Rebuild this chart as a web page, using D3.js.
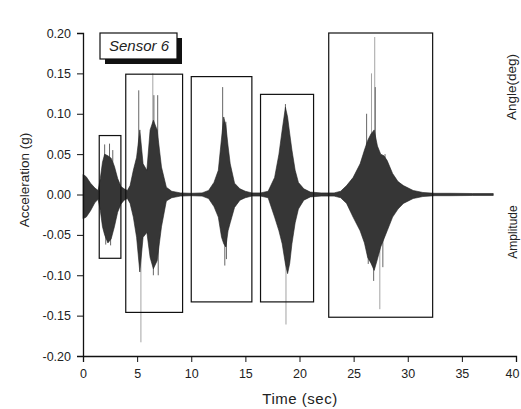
<!DOCTYPE html>
<html>
<head>
<meta charset="utf-8">
<script src="https://cdn.jsdelivr.net/npm/d3@7"></script>
<style>
  body { margin: 0; background: #fff; }
  text { font-family: "Liberation Sans", Arial, sans-serif; }
</style>
</head>
<body>
<div id="chart"></div>
<script>
var envTime  = [0, 0.3, 0.7, 1.1, 1.4, 1.6, 1.8, 2.0, 2.3, 2.6, 2.9, 3.2, 3.5, 3.8, 4.1, 4.35, 4.65, 4.95, 5.25, 5.55, 5.9, 6.2, 6.5, 6.85, 7.25, 7.7, 8.2, 9.0, 10.0, 11.0, 11.6, 12.1, 12.5, 12.8, 13.0, 13.2, 13.4, 13.6, 14.0, 14.5, 15.0, 15.6, 16.4, 17.1, 17.7, 18.1, 18.4, 18.7, 18.9, 19.1, 19.3, 19.6, 19.9, 20.4, 21.0, 22.0, 23.2, 23.8, 24.35, 24.95, 25.6, 26.0, 26.3, 26.6, 26.9, 27.2, 27.5, 27.8, 28.1, 28.6, 29.1, 29.6, 30.5, 31.4, 32.5, 34.0, 36.0, 37.9];
var envUpper = [0.025, 0.022, 0.014, 0.008, 0.005, 0.02, 0.04, 0.05, 0.048, 0.045, 0.035, 0.02, 0.01, 0.007, 0.005, 0.011, 0.03, 0.046, 0.08, 0.038, 0.03, 0.08, 0.092, 0.08, 0.034, 0.009, 0.004, 0.002, 0.0015, 0.002, 0.005, 0.015, 0.03, 0.07, 0.096, 0.085, 0.06, 0.038, 0.014, 0.007, 0.004, 0.002, 0.002, 0.004, 0.021, 0.05, 0.08, 0.108, 0.096, 0.075, 0.055, 0.03, 0.015, 0.007, 0.003, 0.002, 0.002, 0.004, 0.011, 0.021, 0.038, 0.055, 0.067, 0.075, 0.08, 0.06, 0.05, 0.048, 0.042, 0.026, 0.016, 0.011, 0.005, 0.0025, 0.0015, 0.0015, 0.0012, 0.0012];
var envLower = [-0.03, -0.028, -0.02, -0.01, -0.006, -0.02, -0.04, -0.05, -0.06, -0.055, -0.04, -0.022, -0.012, -0.007, -0.005, -0.011, -0.028, -0.053, -0.096, -0.053, -0.047, -0.078, -0.092, -0.082, -0.04, -0.008, -0.004, -0.002, -0.0015, -0.002, -0.005, -0.015, -0.028, -0.053, -0.061, -0.065, -0.045, -0.035, -0.016, -0.007, -0.004, -0.002, -0.002, -0.004, -0.028, -0.045, -0.061, -0.086, -0.098, -0.085, -0.061, -0.035, -0.018, -0.007, -0.003, -0.002, -0.002, -0.004, -0.011, -0.028, -0.045, -0.06, -0.078, -0.085, -0.094, -0.08, -0.065, -0.055, -0.045, -0.028, -0.018, -0.011, -0.005, -0.0025, -0.0015, -0.0015, -0.0012, -0.0012];

// single peaks sticking out of the envelope
var spikeTime = [2.0, 2.45, 2.75, 2.1, 2.55, 5.15, 6.45, 6.55, 6.9, 5.35, 6.5, 6.95, 12.9, 13.2, 13.1, 13.25, 18.7, 18.75, 26.2, 26.65, 26.95, 27.0, 27.9, 26.35, 26.85, 27.42, 27.7];
var spikePeak = [0.062, 0.063, 0.055, -0.062, -0.063, 0.129, 0.15, 0.123, 0.123, -0.183, -0.1, -0.1, 0.133, 0.09, -0.088, -0.08, 0.112, -0.161, 0.1, 0.15, 0.195, 0.133, 0.05, -0.086, -0.107, -0.142, -0.09];

// boxes around the five events
var boxStart = [1.5, 3.95, 10.0, 16.4, 22.7];
var boxEnd   = [3.5, 9.2, 15.6, 21.3, 32.3];
var boxTop   = [0.073, 0.149, 0.146, 0.124, 0.2];
var boxBot   = [-0.079, -0.146, -0.133, -0.133, -0.152];

var xTicks = [0, 5, 10, 15, 20, 25, 30, 35, 40];
var yTicks = [-0.2, -0.15, -0.1, -0.05, 0, 0.05, 0.1, 0.15, 0.2];

var W = 521, H = 409;
var svg = d3.select("#chart").append("svg")
    .attr("width", W)
    .attr("height", H);

var x = d3.scaleLinear().domain([0, 40]).range([83, 516]);
var y = d3.scaleLinear().domain([-0.2, 0.2]).range([356, 33]);

var env = envTime.map(function(t, i){ return {t: t, hi: envUpper[i], lo: envLower[i]}; });

// spikes first, the dense part covers their roots
svg.selectAll("line.spike")
    .data(spikeTime)
    .enter()
    .append("line")
    .attr("class", "spike")
    .attr("x1", function(d){ return x(d); })
    .attr("x2", function(d){ return x(d); })
    .attr("y1", y(0))
    .attr("y2", function(d, i){ return y(spikePeak[i]); })
    .attr("stroke", function(d, i){ return Math.abs(spikePeak[i]) > 0.14 ? "#999" : "#555"; })
    .attr("stroke-width", 0.9);

// dense waveform
svg.append("path")
    .datum(env)
    .attr("fill", "#363636")
    .attr("stroke", "#222")
    .attr("stroke-width", 0.6)
    .attr("d", d3.area()
        .x(function(d){ return x(d.t); })
        .y0(function(d){ return y(d.lo); })
        .y1(function(d){ return y(d.hi); }));

// event boxes
svg.selectAll("rect.box")
    .data(boxStart)
    .enter()
    .append("rect")
    .attr("class", "box")
    .attr("x", function(d){ return x(d); })
    .attr("y", function(d, i){ return y(boxTop[i]); })
    .attr("width", function(d, i){ return x(boxEnd[i]) - x(d); })
    .attr("height", function(d, i){ return y(boxBot[i]) - y(boxTop[i]); })
    .attr("fill", "none")
    .attr("stroke", "#111")
    .attr("stroke-width", 1.2);

// axes
var xMinor = d3.range(0, 41, 2.5);
var yMinor = d3.range(-0.2, 0.2001, 0.025);

var gx = svg.append("g").attr("transform", "translate(0," + y(-0.2) + ")");
gx.call(d3.axisBottom(x).tickValues(xMinor).tickSize(3).tickFormat(""));
gx.call(d3.axisBottom(x).tickValues(xTicks).tickSize(6).tickPadding(7).tickFormat(d3.format("d")));
// last label sits at the page edge, nudge it in
gx.selectAll(".tick text").filter(function(d){ return d === 40; }).attr("dx", -4);

var gy = svg.append("g").attr("transform", "translate(" + x(0) + ",0)");
gy.call(d3.axisLeft(y).tickValues(yMinor).tickSize(3).tickFormat(""));
gy.call(d3.axisLeft(y).tickValues(yTicks).tickSize(6).tickPadding(6)
    .tickFormat(function(d){ return d3.format(".2f")(d).replace("\u2212", "-"); }));

svg.selectAll(".domain").attr("stroke", "#111").attr("stroke-width", 1.3);
svg.selectAll(".tick line").attr("stroke", "#111").attr("stroke-width", 1);
svg.selectAll(".tick text").attr("font-size", 12.5).attr("fill", "#222")
    .style("font-family", "Liberation Sans, Arial, sans-serif");

svg.append("text")
    .attr("transform", "translate(29,180) rotate(-90)")
    .attr("text-anchor", "middle")
    .attr("font-size", 13.5)
    .attr("fill", "#222")
    .text("Acceleration (g)");

svg.append("text")
    .attr("x", 300)
    .attr("y", 404)
    .attr("text-anchor", "middle")
    .attr("font-size", 15)
    .attr("letter-spacing", 0.5)
    .attr("fill", "#222")
    .text("Time (sec)");

// legend tag with shadow
svg.append("rect")
    .attr("x", 105).attr("y", 38).attr("width", 77).attr("height", 26)
    .attr("fill", "#111");
svg.append("rect")
    .attr("x", 100).attr("y", 33).attr("width", 77).attr("height", 26)
    .attr("fill", "#fff").attr("stroke", "#111").attr("stroke-width", 1.2);
svg.append("text")
    .attr("x", 139).attr("y", 51)
    .attr("text-anchor", "middle")
    .attr("font-size", 15)
    .attr("font-style", "italic")
    .attr("fill", "#222")
    .text("Sensor 6");

// labels of the neighbouring panels at the right edge
svg.append("text")
    .attr("transform", "translate(516,87) rotate(-90)")
    .attr("text-anchor", "middle")
    .attr("font-size", 13.5)
    .attr("fill", "#222")
    .text("Angle(deg)");

svg.append("text")
    .attr("transform", "translate(517,232) rotate(-90)")
    .attr("text-anchor", "middle")
    .attr("font-size", 12)
    .attr("fill", "#222")
    .text("Amplitude");
</script>
</body>
</html>
